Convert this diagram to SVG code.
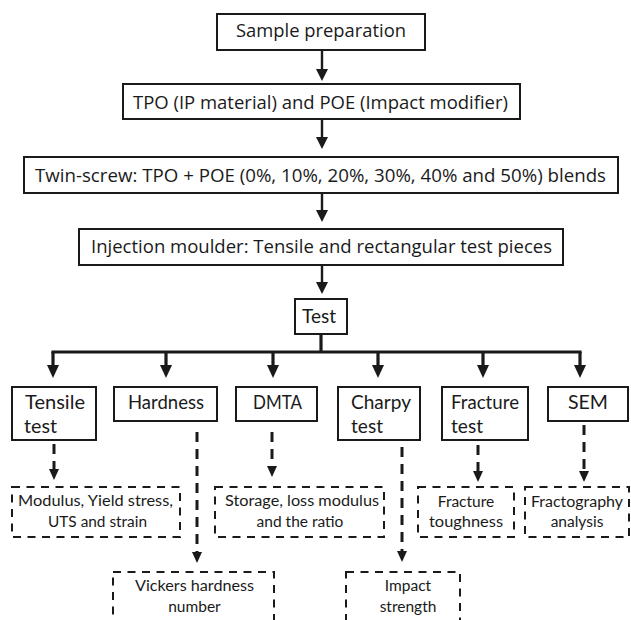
<svg xmlns="http://www.w3.org/2000/svg" width="631" height="620" viewBox="0 0 631 620">
<style>
.box{fill:#fff;stroke:#1a1a1a;stroke-width:2}
.dbox{fill:none;stroke:#1a1a1a;stroke-width:2;stroke-dasharray:8,6.5}
.t1{font-family:"Open Sans","Liberation Sans",sans-serif;font-size:18.5px;fill:#1a1a1a;text-anchor:middle}
.t2{font-family:Lato,"Liberation Sans",sans-serif;font-size:18.5px;fill:#1a1a1a}
.t3{font-family:Lato,"Liberation Sans",sans-serif;font-size:15.5px;fill:#1a1a1a;text-anchor:middle}
.thin{stroke:#1a1a1a;stroke-width:2.4;fill:none}
.bus{stroke:#1a1a1a;stroke-width:3.2;fill:none}
.dash{stroke:#1a1a1a;stroke-width:3;fill:none;stroke-dasharray:10,7}
</style>
<defs>
<marker id="ah" markerUnits="userSpaceOnUse" markerWidth="12" markerHeight="12" refX="0" refY="6" orient="auto" viewBox="0 0 12 12">
<path d="M0,0 L12,6 L0,12 z" fill="#1a1a1a"/>
</marker>
<marker id="ahb" markerUnits="userSpaceOnUse" markerWidth="13" markerHeight="12" refX="0" refY="6" orient="auto" viewBox="0 0 13 12">
<path d="M0,0 L13,6 L0,12 z" fill="#1a1a1a"/>
</marker>
<marker id="ahd" markerUnits="userSpaceOnUse" markerWidth="11" markerHeight="11" refX="0" refY="5" orient="auto" viewBox="0 0 11 10">
<path d="M0,0 L11,5 L0,10 z" fill="#1a1a1a"/>
</marker>
</defs>
<rect width="631" height="620" fill="#fff"/>
<g id="connectors">
<line class="thin" x1="322" y1="50" x2="322" y2="69" marker-end="url(#ah)"/>
<line class="thin" x1="322" y1="119" x2="322" y2="137" marker-end="url(#ah)"/>
<line class="thin" x1="322" y1="193" x2="322" y2="210" marker-end="url(#ah)"/>
<line class="thin" x1="322" y1="265" x2="322" y2="282" marker-end="url(#ah)"/>
<line class="bus" x1="321" y1="334" x2="321" y2="352"/>
<line class="bus" x1="51.4" y1="352" x2="581.6" y2="352"/>
<line class="bus" x1="53" y1="352" x2="53" y2="365" marker-end="url(#ahb)"/>
<line class="bus" x1="166" y1="352" x2="166" y2="365" marker-end="url(#ahb)"/>
<line class="bus" x1="273" y1="352" x2="273" y2="365" marker-end="url(#ahb)"/>
<line class="bus" x1="378" y1="352" x2="378" y2="365" marker-end="url(#ahb)"/>
<line class="bus" x1="483" y1="352" x2="483" y2="365" marker-end="url(#ahb)"/>
<line class="bus" x1="580" y1="352" x2="580" y2="365" marker-end="url(#ahb)"/>
<line class="dash" x1="54" y1="444" x2="54" y2="469" marker-end="url(#ahd)"/>
<line class="dash" x1="197" y1="432" x2="197" y2="552" marker-end="url(#ahd)"/>
<line class="dash" x1="272" y1="432" x2="272" y2="466" marker-end="url(#ahd)"/>
<line class="dash" x1="402" y1="447" x2="402" y2="551" marker-end="url(#ahd)"/>
<line class="dash" x1="478" y1="445" x2="478" y2="471" marker-end="url(#ahd)"/>
<line class="dash" x1="584" y1="425" x2="584" y2="471" marker-end="url(#ahd)"/>
</g>
<g id="sample-preparation">
<rect class="box" x="217" y="14" width="208" height="36"/>
<text class="t1" x="321" y="37" textLength="170" lengthAdjust="spacingAndGlyphs">Sample preparation</text>
</g>
<g id="tpo-poe">
<rect class="box" x="123" y="84" width="397" height="35"/>
<text class="t1" x="320.5" y="109" textLength="375" lengthAdjust="spacingAndGlyphs">TPO (IP material) and POE (Impact modifier)</text>
</g>
<g id="twin-screw">
<rect class="box" x="24" y="157" width="594" height="36"/>
<text class="t1" x="320.5" y="182" textLength="571" lengthAdjust="spacingAndGlyphs">Twin-screw: TPO + POE (0%, 10%, 20%, 30%, 40% and 50%) blends</text>
</g>
<g id="injection-moulder">
<rect class="box" x="79" y="229" width="484" height="36"/>
<text class="t1" x="321.5" y="253" textLength="461" lengthAdjust="spacingAndGlyphs">Injection moulder: Tensile and rectangular test pieces</text>
</g>
<g id="test">
<rect class="box" x="295" y="299" width="52" height="35"/>
<text class="t2" x="302" y="323" textLength="34" lengthAdjust="spacingAndGlyphs">Test</text>
</g>
<g id="tensile-test">
<rect class="box" x="12" y="387" width="84" height="53"/>
<text class="t2" x="25" y="409" textLength="60" lengthAdjust="spacingAndGlyphs">Tensile</text>
<text class="t2" x="24" y="433" textLength="33" lengthAdjust="spacingAndGlyphs">test</text>
</g>
<g id="hardness">
<rect class="box" x="114" y="387" width="103" height="34"/>
<text class="t2" x="128" y="409" textLength="76" lengthAdjust="spacingAndGlyphs">Hardness</text>
</g>
<g id="dmta">
<rect class="box" x="236" y="387" width="81" height="34"/>
<text class="t2" x="253" y="409" textLength="49" lengthAdjust="spacingAndGlyphs">DMTA</text>
</g>
<g id="charpy-test">
<rect class="box" x="338" y="387" width="82" height="53"/>
<text class="t2" x="351" y="409" textLength="60" lengthAdjust="spacingAndGlyphs">Charpy</text>
<text class="t2" x="351" y="433" textLength="32" lengthAdjust="spacingAndGlyphs">test</text>
</g>
<g id="fracture-test">
<rect class="box" x="442" y="387" width="86" height="53"/>
<text class="t2" x="451" y="409" textLength="68" lengthAdjust="spacingAndGlyphs">Fracture</text>
<text class="t2" x="451" y="433" textLength="32" lengthAdjust="spacingAndGlyphs">test</text>
</g>
<g id="sem">
<rect class="box" x="548" y="387" width="80" height="34"/>
<text class="t2" x="568" y="409" textLength="40" lengthAdjust="spacingAndGlyphs">SEM</text>
</g>
<g id="tensile-result">
<rect class="dbox" x="12" y="487" width="168" height="50"/>
<text class="t3" x="95.5" y="506" textLength="155" lengthAdjust="spacingAndGlyphs">Modulus, Yield stress,</text>
<text class="t3" x="97.5" y="527" textLength="99" lengthAdjust="spacingAndGlyphs">UTS and strain</text>
</g>
<g id="dmta-result">
<rect class="dbox" x="215" y="487" width="169" height="50"/>
<text class="t3" x="302" y="506" textLength="154" lengthAdjust="spacingAndGlyphs">Storage, loss modulus</text>
<text class="t3" x="300" y="527">and the ratio</text>
</g>
<g id="fracture-result">
<rect class="dbox" x="418" y="487" width="96" height="50"/>
<text class="t3" x="466" y="507">Fracture</text>
<text class="t3" x="466" y="527" textLength="74" lengthAdjust="spacingAndGlyphs">toughness</text>
</g>
<g id="sem-result">
<rect class="dbox" x="525" y="487" width="104" height="50"/>
<text class="t3" x="577" y="507" textLength="92" lengthAdjust="spacingAndGlyphs">Fractography</text>
<text class="t3" x="577" y="527">analysis</text>
</g>
<g id="hardness-result">
<rect class="dbox" x="113" y="572" width="161" height="56"/>
<text class="t3" x="194.5" y="591" textLength="119" lengthAdjust="spacingAndGlyphs">Vickers hardness</text>
<text class="t3" x="194.5" y="612">number</text>
</g>
<g id="charpy-result">
<rect class="dbox" x="346" y="572" width="114" height="56"/>
<text class="t3" x="408" y="591">Impact</text>
<text class="t3" x="408" y="612">strength</text>
</g>
</svg>
